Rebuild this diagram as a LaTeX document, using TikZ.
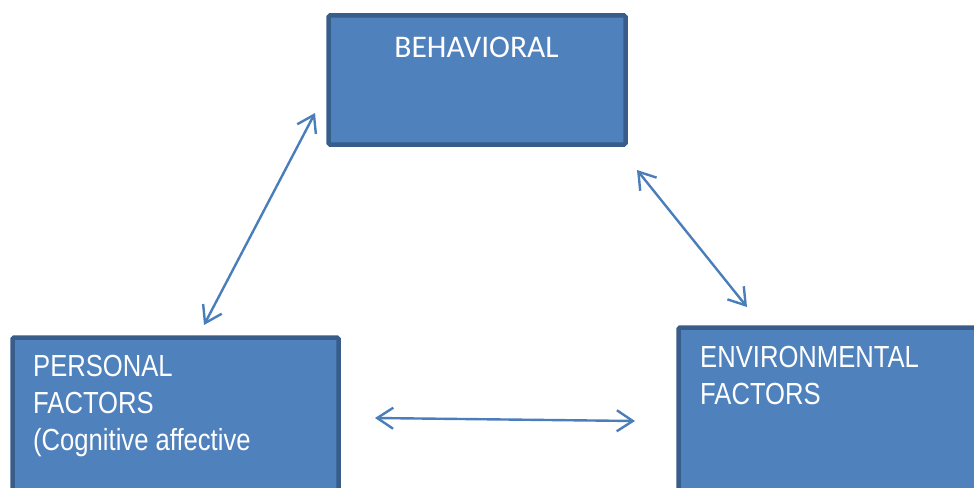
\documentclass[tikz,border=0pt]{standalone}
\usepackage{fontspec}
\setmainfont{Liberation Sans}
\newfontfamily\calfont{Carlito}
\newfontfamily\narrowfont[FakeStretch=0.84]{Liberation Sans}
\usetikzlibrary{arrows.meta}
\definecolor{boxfill}{HTML}{4F81BD}
\definecolor{boxline}{HTML}{385D8A}
\definecolor{arrcol}{HTML}{4A7EBB}
\tikzset{
  factorbox/.style={draw=boxline, line width=4.5pt, fill=boxfill, rounded corners=1.5pt},
  boxtext/.style={text=white, inner sep=0pt, align=left, anchor=north west,
    font={\narrowfont\fontsize{30.5}{36.8}\selectfont}},
  link/.style={draw=arrcol, line width=2.4pt,
    {Straight Barb[length=16pt,width=21pt,line width=2.4pt]}-{Straight Barb[length=16pt,width=21pt,line width=2.4pt]}}
}
\begin{document}
\begin{tikzpicture}[x=1pt,y=1pt]
\useasboundingbox (0,0) rectangle (974,-487);
\clip (0,0) rectangle (974,-487);
% boxes
\path[factorbox] (328.5,-15.5) rectangle (625.5,-144.5);
\node[inner sep=0pt, minimum width=297pt, minimum height=129pt] (beh) at (477,-80) {};
\path[factorbox] (12.5,-337.5) rectangle (338.5,-500);
\node[inner sep=0pt, minimum width=326pt, minimum height=150pt] (per) at (175.5,-412) {};
\path[factorbox] (678.5,-327.5) rectangle (1000,-500);
\node[inner sep=0pt, minimum width=300pt, minimum height=160pt] (env) at (828,-413) {};
% texts
\node[text=white, inner sep=0pt, anchor=base, font={\calfont\fontsize{31.5}{37}\selectfont}] (behtxt) at (476.5,-57) {BEHAVIORAL};
\node[boxtext] (pertxt) at (33,-355) {PERSONAL\\FACTORS\\(Cognitive affective};
\node[boxtext] (envtxt) at (700,-346) {ENVIRONMENTAL\\FACTORS};
% arrow end points
\coordinate (a1) at (204,-325);
\coordinate (a2) at (315,-113);
\coordinate (b1) at (637,-170);
\coordinate (b2) at (747,-307);
\coordinate (c1) at (375,-418);
\coordinate (c2) at (635,-421);
\draw[link] (a1) -- (a2);
\draw[link] (b1) -- (b2);
\draw[link] (c1) -- (c2);
\end{tikzpicture}
\end{document}
